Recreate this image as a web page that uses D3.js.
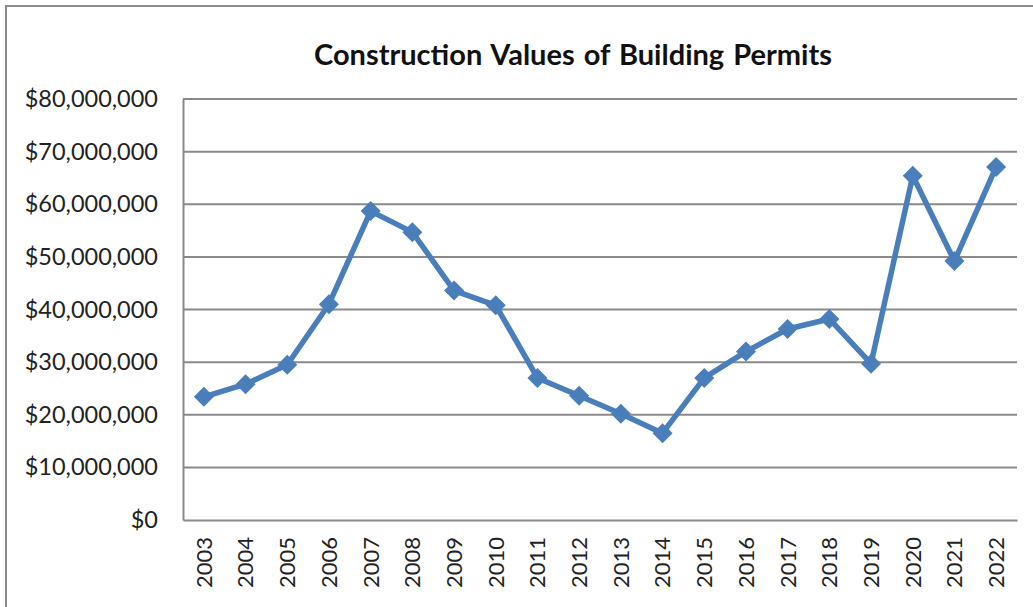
<!DOCTYPE html>
<html><head><meta charset="utf-8">
<script src="https://cdn.jsdelivr.net/npm/d3@7"></script>
<style>html,body{margin:0;padding:0;background:#fff;overflow:hidden}</style>
</head><body>
<svg id="c" width="1033" height="607"></svg>
<script>
const years = ["2003","2004","2005","2006","2007","2008","2009","2010","2011","2012","2013","2014","2015","2016","2017","2018","2019","2020","2021","2022"];
const values = [23400000,25800000,29500000,41000000,58700000,54700000,43600000,40800000,27000000,23600000,20200000,16500000,27000000,32000000,36300000,38200000,29700000,65400000,49200000,67100000];
const yTicks = [0,10000000,20000000,30000000,40000000,50000000,60000000,70000000,80000000];
const title = "Construction Values of Building Permits";

const svg = d3.select("#c");
const font = "Lato, 'Open Sans', sans-serif";
const L = 183, R = 1017, T = 99, B = 520;

svg.append("rect").attr("x",6).attr("y",6).attr("width",1040).attr("height",620)
  .attr("fill","#fff").attr("stroke","#8c8c8c").attr("stroke-width",2);

const x = d3.scaleBand().domain(years).range([L,R]);
const y = d3.scaleLinear().domain([0,80000000]).range([B,T]);

// gridlines
svg.append("g").selectAll("line").data(yTicks.filter(d=>d>0)).join("line")
  .attr("x1",L).attr("x2",R).attr("y1",d=>y(d)).attr("y2",d=>y(d))
  .attr("stroke","#8a8a8a").attr("stroke-width",2);

// y axis
const fmt = d=>"$"+d3.format(",")(d);
const ya = svg.append("g").attr("transform",`translate(${L},0)`)
  .call(d3.axisLeft(y).tickValues(yTicks).tickFormat(fmt).tickSize(0).tickPadding(25));
ya.select(".domain").attr("stroke","#8a8a8a").attr("stroke-width",2);
ya.selectAll("text").attr("font-family",font).attr("font-size",23.5).attr("fill","#222");

// x axis
const xa = svg.append("g").attr("transform",`translate(0,${B})`)
  .call(d3.axisBottom(x).tickSize(0).tickPadding(0));
xa.select(".domain").attr("stroke","#8a8a8a").attr("stroke-width",2);
xa.selectAll("text").attr("font-family",font).attr("font-size",22).attr("fill","#222")
  .attr("transform","rotate(-90)").attr("text-anchor","end").attr("dy","0.36em")
  .attr("x",-17).attr("y",0);

// line
const cx = d=>x(d)+x.bandwidth()/2;
const line = d3.line().x((d,i)=>cx(years[i])).y(d=>y(d));
svg.append("path").datum(values).attr("d",line).attr("fill","none")
  .attr("stroke","#4a7ebb").attr("stroke-width",5.5).attr("stroke-linejoin","round");

// markers
const h = 10;
svg.append("g").selectAll("path").data(values).join("path")
  .attr("d",`M0,${-h}L${h},0L0,${h}L${-h},0Z`)
  .attr("transform",(d,i)=>`translate(${cx(years[i])},${y(d)})`)
  .attr("fill","#4a7ebb");

// title
svg.append("text").attr("x",573).attr("y",65).attr("text-anchor","middle")
  .attr("font-family",font).attr("font-weight","bold").attr("font-size",29)
  .attr("word-spacing",2).attr("fill","#111").text(title);
</script>
</body></html>
